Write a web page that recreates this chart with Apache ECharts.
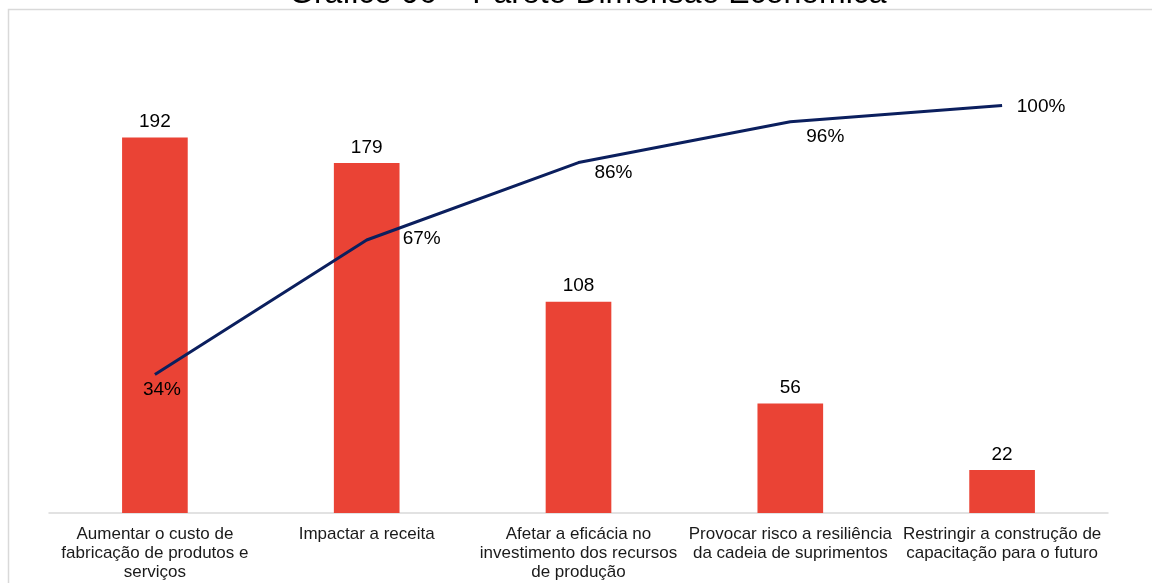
<!DOCTYPE html>
<html>
<head>
<meta charset="utf-8">
<script src="https://cdn.jsdelivr.net/npm/echarts@6/dist/echarts.min.js"></script>
<style>
  html, body { margin: 0; padding: 0; background: #ffffff; }
  #chart { width: 1152px; height: 583px; }
</style>
</head>
<body>
<div id="chart"></div>
<script>
// Pareto chart: occurrences per impact (bars) and cumulative share (line)
const categories = [
  'Aumentar o custo de\nfabricação de produtos e\nserviços',
  'Impactar a receita',
  'Afetar a eficácia no\ninvestimento dos recursos\nde produção',
  'Provocar risco a resiliência\nda cadeia de suprimentos',
  'Restringir a construção de\ncapacitação para o futuro'
];
const counts = [192, 179, 108, 56, 22];
const cumulativePct = [34, 67, 86, 96, 100];

const titleText = 'Gráfico 06 – Pareto Dimensão Econômica';
const FONT = 'Liberation Sans, Arial, sans-serif';

// where each cumulative label sits relative to its point
const pctLabelOffsets = [[7, 15], [55, -1], [35, 10], [35, 15], [39, 1]];

const chart = echarts.init(document.getElementById('chart'));

chart.setOption({
  animation: false,
  backgroundColor: '#ffffff',
  title: {
    text: titleText,
    left: 289,
    top: -22,
    padding: 0,
    textStyle: {
      fontFamily: FONT,
      fontSize: 32,
      fontWeight: 'normal',
      color: '#000000',
      lineHeight: 32
    }
  },
  graphic: [
    {
      type: 'polyline',
      shape: { points: [[8.5, 600], [8.5, 9.5], [1160, 9.5]] },
      style: { stroke: '#d9d9d9', lineWidth: 1.5, fill: null },
      silent: true
    }
  ],
  grid: { left: 49, right: 44, top: 24, bottom: 70 },
  xAxis: {
    type: 'category',
    data: categories,
    axisLine: { show: true, lineStyle: { color: '#d9d9d9', width: 1.5 } },
    axisTick: { show: false },
    axisLabel: {
      interval: 0,
      margin: 12,
      color: '#1a1a1a',
      fontFamily: FONT,
      fontSize: 17,
      lineHeight: 19
    }
  },
  yAxis: [
    { type: 'value', min: 0, max: 250, show: false, splitLine: { show: false } },
    { type: 'value', min: 0, max: 120, show: false, splitLine: { show: false } }
  ],
  series: [
    {
      type: 'bar',
      data: counts,
      barWidth: '31%',
      itemStyle: { color: '#EA4335' },
      label: {
        show: true,
        position: 'top',
        distance: 6,
        color: '#000000',
        fontFamily: FONT,
        fontSize: 19
      }
    },
    {
      type: 'line',
      yAxisIndex: 1,
      data: cumulativePct.map((v, i) => ({
        value: v,
        label: { offset: pctLabelOffsets[i] }
      })),
      symbol: 'circle',
      symbolSize: 0.01,
      showSymbol: true,
      itemStyle: { color: '#0B1F5E' },
      lineStyle: { color: '#0B1F5E', width: 3 },
      label: {
        show: true,
        position: 'inside',
        align: 'center',
        verticalAlign: 'middle',
        color: '#000000',
        fontFamily: FONT,
        fontSize: 19,
        formatter: p => p.value + '%'
      },
      z: 5
    }
  ]
});
</script>
</body>
</html>
